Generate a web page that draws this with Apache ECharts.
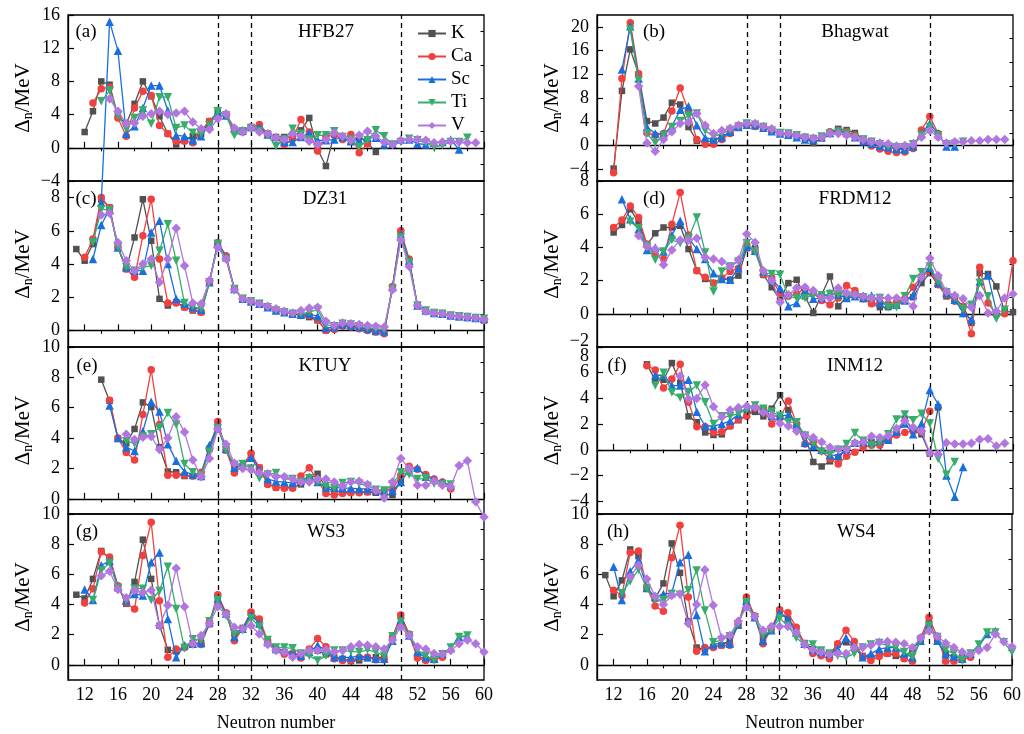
<!DOCTYPE html>
<html><head><meta charset="utf-8">
<script src="https://cdn.jsdelivr.net/npm/echarts@6/dist/echarts.min.js"></script>
<style>html,body{margin:0;padding:0;background:#fff}#c{width:1024px;height:734px}</style>
</head><body><div id="c"></div>
<script>
// ---------------- DATA ----------------
const elements = ['K', 'Ca', 'Sc', 'Ti', 'V'];
const models = ['HFB27', 'Bhagwat', 'DZ31', 'FRDM12', 'KTUY', 'INM12', 'WS3', 'WS4'];
const panelTags = ['(a)', '(b)', '(c)', '(d)', '(e)', '(f)', '(g)', '(h)'];
const xTickValues = [12, 16, 20, 24, 28, 32, 36, 40, 44, 48, 52, 56, 60];
const shellClosures = [28, 32, 50];
const yMin = [-4, -6, -1, -2, -1, -5, -1, -1];
const yMax = [16, 22, 9, 8, 10, 8, 10, 10];
const yTickLabels = [
  [-4, 0, 4, 8, 12, 16],
  [-4, 0, 4, 8, 12, 16, 20],
  [0, 2, 4, 6, 8],
  [-2, 0, 2, 4, 6, 8],
  [0, 2, 4, 6, 8, 10],
  [-4, -2, 0, 2, 4, 6, 8],
  [0, 2, 4, 6, 8, 10],
  [0, 2, 4, 6, 8, 10]
];

// first neutron number of each series (K, Ca, Sc, Ti, V)
const HFB27_start = [12, 13, 14, 14, 15];
const HFB27_K = [1.9, 4.4, 8.0, 7.6, 3.8, 2.9, 5.3, 8.0, 6.2, 3.8, 1.7, 0.4, 0.9, 1.4, 1.7, 3.2, 4.3, 4.0, 2.1, 1.9, 2.4, 2.3, 1.7, 1.3, 1.3, 1.2, 2.1, 3.6, -0.2, -2.2, 1.6, 1.1, 0.8, 1.3, 0.6, -0.5];
const HFB27_Ca = [5.4, 7.1, 7.3, 3.6, 1.4, 4.8, 6.8, 6.3, 2.7, 1.7, 0.8, 0.8, 0.6, 2.1, 3.2, 3.7, 3.9, 2.3, 2.0, 2.5, 2.8, 1.7, 1.2, 0.4, 1.1, 3.4, 1.9, -0.4, 1.4, 1.6, 1.0, 1.6, -0.6, 0.5];
const HFB27_Sc = [-6.6, 15.2, 11.7, 1.7, 2.6, 4.8, 7.5, 7.5, 4.5, 1.5, 1.4, 0.9, 1.4, 2.8, 4.3, 3.9, 2.4, 2.1, 2.5, 2.5, 1.6, 1.3, 0.7, 0.7, 1.3, 1.8, 0.9, 0.9, 1.0, 1.3, 0.8, 0.9, 1.2, 1.2, 0.4, 0.5, 1.0, 1.0, 0.5, 0.4, 0.6, 0.7, 1.0, -0.2];
const HFB27_Ti = [5.6, 6.9, 3.9, 2.3, 3.6, 4.5, 2.9, 6.1, 6.1, 2.4, 2.7, 1.8, 1.7, 2.7, 4.4, 3.9, 1.5, 2.0, 2.4, 2.0, 1.5, 0.2, 1.0, 2.3, 1.7, 1.0, 1.5, 1.5, 2.0, 1.3, 1.0, 0.1, 0.9, 2.1, 1.4, 0.4, 0.7, 1.1, 0.9, 0.6, 0.1, 0.3, 0.7, 0.7, 1.2];
const HFB27_V = [5.9, 4.4, 2.9, 3.0, 3.8, 4.1, 4.4, 4.0, 4.2, 4.4, 3.1, 2.3, 2.2, 3.5, 4.1, 2.4, 1.9, 2.4, 1.9, 1.7, 1.2, 1.0, 1.7, 1.4, 0.8, 0.4, 1.0, 1.8, 1.4, 0.9, 1.5, 2.0, 1.4, 0.7, 0.4, 0.9, 1.0, 1.0, 0.9, 0.6, 0.7, 0.8, 0.7, 0.6, 0.6];

const Bhagwat_start = [12, 12, 13, 14, 15];
const Bhagwat_K = [-3.9, 9.2, 16.2, 12.0, 4.1, 3.7, 4.7, 7.2, 6.9, 3.1, 0.8, 0.6, 0.8, 1.4, 2.3, 3.2, 3.7, 3.5, 3.1, 2.5, 2.1, 2.0, 1.7, 1.2, 0.4, 1.2, 2.1, 2.8, 2.6, 2.1, 1.1, 0.6, 0.0, -0.3, -0.5, -0.5, 0.3];
const Bhagwat_Ca = [-4.6, 11.3, 20.7, 12.1, 2.1, 1.7, 2.0, 5.8, 9.7, 5.7, 1.0, 0.2, 0.2, 1.0, 2.0, 3.3, 3.5, 3.2, 3.0, 2.4, 2.0, 1.8, 1.7, 1.4, 1.2, 1.4, 2.3, 2.5, 2.3, 1.7, 0.6, -0.1, -0.6, -1.0, -1.2, -1.1, -0.5, 2.6, 4.9, 2.0];
const Bhagwat_Sc = [12.8, 20.1, 11.3, 3.1, 2.0, 2.0, 3.2, 6.0, 6.6, 3.4, 1.3, 1.0, 1.4, 2.3, 3.1, 3.5, 3.4, 3.0, 2.4, 2.0, 1.8, 1.4, 1.0, 1.0, 1.4, 2.1, 2.5, 2.1, 1.4, 0.7, 0.3, -0.1, -0.3, -0.6, -0.7, -0.2, 2.0, 3.7, 2.0, -0.2, -0.2];
const Bhagwat_Ti = [19.5, 11.0, 2.0, 0.4, 1.7, 3.1, 4.1, 5.0, 5.4, 2.5, 1.5, 2.0, 2.6, 3.2, 3.7, 3.5, 3.1, 2.5, 2.1, 2.0, 1.7, 1.3, 1.1, 1.5, 2.0, 2.3, 2.0, 1.4, 1.0, 0.6, 0.2, -0.2, -0.3, -0.3, 0.2, 1.7, 3.1, 1.7, 0.2, 0.3, 0.6];
const Bhagwat_V = [10.0, 0.4, -1.0, 1.0, 2.3, 3.7, 3.9, 5.4, 3.4, 2.0, 2.5, 2.9, 3.4, 3.7, 3.7, 3.2, 2.8, 2.1, 2.0, 1.7, 1.4, 1.2, 1.4, 2.0, 2.0, 1.7, 1.4, 1.0, 0.6, 0.4, 0.3, -0.1, 0.0, 0.2, 1.4, 2.5, 1.4, 0.4, 0.6, 0.6, 0.8, 0.8, 1.0, 1.0, 1.0];

const DZ31_start = [11, 12, 13, 13, 14];
const DZ31_K = [4.9, 4.2, 5.2, 7.9, 7.4, 5.0, 3.7, 5.6, 7.9, 5.4, 1.9, 1.5, 1.7, 1.4, 1.2, 1.1, 2.9, 5.2, 4.4, 2.5, 1.9, 1.7, 1.6, 1.4, 1.2, 1.1, 1.0, 0.9, 0.8, 0.6, 0.0, 0.1, 0.3, 0.25, 0.15, 0.05, -0.1, -0.1, 2.6, 5.9, 4.2, 1.5, 1.2, 1.05, 1.0, 0.9, 0.8, 0.75, 0.7, 0.6];
const DZ31_Ca = [4.4, 5.5, 8.0, 7.4, 5.0, 3.7, 3.2, 5.7, 7.9, 4.3, 1.65, 1.65, 1.4, 1.25, 1.1, 2.9, 5.3, 4.5, 2.5, 1.9, 1.75, 1.6, 1.4, 1.2, 1.1, 1.0, 0.9, 0.9, 0.65, 0.0, 0.05, 0.25, 0.2, 0.1, 0.0, -0.1, -0.2, 2.65, 6.0, 4.3, 1.5, 1.2, 1.05, 1.0, 0.9, 0.85, 0.8, 0.75, 0.65];
const DZ31_Sc = [4.3, 6.35, 7.3, 5.0, 3.8, 3.6, 3.6, 5.9, 6.6, 4.0, 1.9, 1.6, 1.4, 1.25, 2.9, 5.3, 4.4, 2.5, 1.9, 1.75, 1.6, 1.4, 1.2, 1.1, 1.0, 0.95, 1.0, 0.85, 0.15, 0.2, 0.35, 0.3, 0.2, 0.1, 0.0, -0.05, 2.6, 5.8, 4.2, 1.5, 1.2, 1.05, 1.0, 0.9, 0.85, 0.8, 0.75, 0.7];
const DZ31_Ti = [5.3, 7.3, 7.25, 5.0, 3.8, 3.6, 3.8, 3.9, 4.8, 6.4, 4.2, 1.65, 1.45, 1.3, 2.9, 5.2, 4.3, 2.5, 1.9, 1.75, 1.6, 1.4, 1.2, 1.1, 1.0, 1.0, 1.1, 1.25, 0.35, 0.25, 0.4, 0.35, 0.25, 0.15, 0.1, 0.05, 2.5, 5.6, 4.1, 1.5, 1.2, 1.05, 1.0, 0.9, 0.85, 0.8, 0.75, 0.7];
const DZ31_V = [6.95, 7.05, 5.3, 4.2, 3.6, 4.0, 4.3, 2.9, 4.3, 6.15, 3.9, 1.65, 1.6, 3.0, 5.0, 4.3, 2.45, 1.9, 1.75, 1.6, 1.45, 1.3, 1.15, 1.05, 1.2, 1.35, 1.4, 0.55, 0.3, 0.45, 0.4, 0.35, 0.3, 0.25, 0.2, 2.45, 5.45, 3.85, 1.5, 1.15, 1.05, 1.0, 0.9, 0.85, 0.8, 0.75, 0.65];

const FRDM12_start = [12, 12, 13, 14, 15];
const FRDM12_K = [4.9, 5.35, 6.3, 5.5, 4.15, 4.85, 5.2, 5.2, 5.3, 3.9, 2.6, 2.1, 1.85, 2.15, 2.05, 2.3, 3.95, 3.95, 2.35, 1.6, 0.85, 1.85, 2.05, 1.05, 0.05, 1.15, 2.25, 0.45, 1.05, 1.1, 0.9, 0.65, 0.4, 0.4, 0.5, 0.8, 1.0, 1.85, 2.45, 1.75, 1.05, 0.95, 0.45, -0.55, 2.45, 2.4, 1.65, 0.15, 0.1];
const FRDM12_Ca = [5.2, 5.65, 6.5, 5.8, 4.2, 3.55, 3.3, 5.4, 7.3, 4.75, 2.6, 2.2, 1.85, 2.15, 2.55, 2.75, 4.15, 3.75, 2.35, 2.15, 1.2, 1.05, 1.2, 1.55, 1.25, 0.8, 0.55, 0.95, 1.7, 1.4, 0.9, 0.6, 0.65, 0.6, 0.7, 0.9, 1.6, 2.25, 2.55, 1.75, 1.15, 0.75, 0.45, -1.2, 2.8, 0.65, -0.05, 0.0, 3.2];
const FRDM12_Sc = [6.9, 5.7, 5.1, 3.85, 4.0, 3.75, 4.75, 5.6, 4.55, 3.9, 3.3, 2.45, 2.1, 2.05, 2.75, 4.05, 3.8, 2.55, 2.1, 1.55, 0.45, 0.65, 1.45, 0.9, 0.95, 1.25, 1.15, 0.95, 1.05, 0.95, 1.1, 0.65, 0.55, 0.55, 0.8, 1.15, 2.3, 2.75, 1.85, 1.25, 0.85, 0.05, -0.35, 1.95, 2.3, 0.15];
const FRDM12_Ti = [5.55, 5.15, 4.1, 3.25, 3.75, 4.45, 4.25, 4.55, 5.8, 3.7, 1.35, 2.55, 2.85, 3.15, 4.25, 3.75, 2.45, 2.4, 2.35, 1.05, 0.95, 0.95, 1.15, 1.1, 1.2, 1.15, 1.1, 1.05, 1.0, 0.9, 0.95, 0.4, 0.4, 1.05, 2.1, 2.5, 2.85, 1.95, 1.3, 0.95, 0.3, 0.55, 1.85, 1.05, -0.3, 0.25];
const FRDM12_V = [4.7, 4.05, 3.9, 2.95, 3.85, 4.45, 4.45, 4.55, 3.4, 3.3, 3.15, 2.85, 3.25, 4.8, 4.3, 2.6, 2.0, 0.7, 1.15, 1.55, 1.6, 1.4, 0.95, 0.95, 1.55, 1.25, 1.15, 1.05, 0.95, 0.95, 0.95, 0.95, 0.85, 0.45, 2.2, 3.35, 2.3, 1.35, 1.1, 0.9, 0.4, 1.1, 0.05, 0.15, 0.95, 1.2];

const KTUY_start = [14, 15, 15, 17, 17];
const KTUY_K = [7.85, 6.45, 3.95, 3.65, 4.6, 6.35, 6.05, 3.4, 1.8, 1.75, 1.5, 1.5, 1.45, 3.3, 4.75, 3.2, 2.05, 2.15, 2.85, 2.05, 1.0, 0.75, 0.75, 0.75, 0.95, 1.3, 1.65, 0.75, 0.5, 0.45, 0.45, 0.45, 0.45, 0.4, 0.3, 0.25, 1.2];
const KTUY_Ca = [6.5, 4.0, 3.05, 2.55, 5.55, 8.5, 4.9, 1.55, 1.55, 1.55, 1.5, 1.75, 3.3, 5.1, 3.2, 1.7, 2.2, 3.0, 2.05, 0.95, 0.75, 0.7, 0.7, 1.5, 2.05, 1.2, 0.35, 0.25, 0.35, 0.4, 0.4, 0.45, 0.5, 0.55, 0.6, 1.55, 2.15, 1.95, 1.6, 1.3, 1.1, 0.65];
const KTUY_Sc = [6.15, 4.0, 3.4, 3.15, 4.45, 6.4, 5.75, 3.6, 2.5, 1.8, 1.6, 1.5, 3.55, 4.8, 3.3, 2.05, 2.25, 2.7, 1.9, 1.3, 1.15, 1.1, 1.05, 1.2, 1.45, 1.1, 0.75, 0.75, 0.7, 0.7, 0.65, 0.65, 0.55, 0.55, 0.55, 1.1, 1.9, 2.05, 1.45, 1.3, 1.1, 0.9];
const KTUY_Ti = [3.8, 3.65, 4.1, 4.25, 4.7, 5.65, 4.9, 2.3, 1.75, 1.55, 3.1, 4.65, 3.2, 2.25, 2.3, 2.0, 1.35, 1.6, 1.7, 1.3, 1.3, 1.1, 1.35, 1.1, 0.85, 0.7, 1.05, 1.1, 1.0, 0.85, 0.6, 0.55, 0.95, 1.75, 1.6, 1.3, 1.35, 1.0, 0.95, 0.95];
const KTUY_V = [4.25, 3.9, 4.05, 4.1, 3.25, 4.0, 5.4, 4.4, 2.55, 1.45, 2.65, 4.6, 3.6, 2.35, 2.0, 1.9, 1.7, 1.65, 1.45, 1.45, 1.3, 1.1, 1.1, 1.3, 1.3, 1.1, 0.85, 1.1, 1.15, 0.95, 0.55, 0.05, 1.1, 2.65, 2.0, 0.9, 0.9, 1.15, 0.9, 0.8, 2.2, 2.5, -0.2, -1.2];

const INM12_start = [16, 16, 17, 17, 20];
const INM12_K = [6.65, 5.4, 5.45, 6.75, 5.2, 2.6, 2.15, 1.35, 1.15, 1.2, 1.85, 2.3, 2.75, 2.95, 2.6, 3.2, 4.25, 3.1, 1.85, 1.15, -0.95, -1.3, -0.9, -0.6, 0.05, 0.5, 0.55, 0.6, 0.6, 0.7, 1.35, 2.4, 1.5, 1.2, -0.3, 3.3];
const INM12_Ca = [6.55, 6.2, 4.8, 5.5, 6.65, 3.7, 1.8, 1.8, 1.35, 1.4, 1.85, 2.35, 2.6, 3.3, 3.2, 2.0, 2.5, 3.8, 2.0, 0.45, 0.6, -0.1, -0.7, -1.1, -0.5, -0.2, 0.2, 0.35, 0.35, 0.8, 1.15, 1.35, 1.45, 1.45, 3.0];
const INM12_Sc = [5.8, 5.8, 5.0, 5.0, 5.45, 2.95, 1.85, 1.85, 2.0, 2.25, 2.75, 3.3, 3.45, 3.2, 2.6, 2.65, 2.7, 2.0, 0.55, 0.3, 0.0, -0.4, -0.45, 0.05, 0.55, 0.6, 0.6, 0.7, 0.8, 1.4, 2.05, 1.2, 2.05, 4.65, 3.55, -2.0, -3.65, -1.35];
const INM12_Ti = [5.0, 6.0, 4.45, 4.05, 4.5, 5.0, 3.7, 2.0, 2.6, 2.6, 2.85, 3.1, 3.45, 3.2, 2.95, 2.65, 2.15, 2.15, 1.1, 0.5, -0.15, -0.35, 0.0, 0.45, 1.3, 0.7, 0.35, 0.55, 1.2, 2.35, 2.75, 2.3, 2.8, 2.05, -0.7, -1.95, -0.95];
const INM12_V = [5.75, 3.95, 4.0, 5.05, 3.35, 2.55, 3.1, 3.3, 3.4, 3.3, 2.9, 2.65, 2.05, 1.85, 1.45, 1.15, 0.95, 0.6, 0.2, 0.05, 0.05, 0.55, 0.6, 1.05, 0.95, 1.1, 1.65, 2.25, 1.75, 1.45, -0.25, -0.35, 0.55, 0.45, 0.45, 0.5, 0.8, 0.85, 0.3, 0.5];

const WS3_start = [11, 12, 12, 13, 14];
const WS3_K = [4.65, 4.4, 5.7, 7.55, 7.05, 5.2, 4.05, 5.5, 8.3, 5.7, 2.6, 1.0, 0.9, 1.2, 1.45, 1.45, 2.7, 4.5, 3.4, 2.05, 2.45, 3.45, 2.85, 1.6, 1.05, 0.85, 0.75, 0.7, 1.0, 0.95, 0.7, 0.5, 0.4, 0.25, 0.3, 0.45, 0.5, 0.5, 1.8, 3.25, 2.0, 0.6, 0.35, 0.4];
const WS3_Ca = [4.1, 5.05, 7.5, 7.15, 5.25, 4.1, 3.7, 7.25, 9.45, 4.25, 0.5, 1.05, 1.15, 1.35, 1.35, 2.85, 4.65, 3.45, 1.6, 2.4, 3.5, 3.05, 1.6, 1.0, 0.7, 0.7, 0.45, 1.05, 1.75, 1.2, 0.4, 0.3, 0.3, 0.5, 0.5, 0.35, 0.35, 1.85, 3.3, 2.05, 0.45, 0.3, 0.35, 0.5];
const WS3_Sc = [5.0, 4.3, 6.6, 6.9, 5.15, 4.25, 4.7, 4.6, 6.8, 7.45, 3.05, 0.5, 1.3, 1.4, 1.45, 2.85, 4.4, 3.4, 1.85, 2.4, 3.3, 2.75, 1.5, 1.05, 1.0, 0.75, 0.6, 0.85, 1.3, 0.95, 0.5, 0.5, 0.5, 0.6, 0.5, 0.4, 0.4, 1.6, 3.0, 1.95, 0.85, 0.5, 0.4, 0.75, 1.1, 1.85, 1.9];
const WS3_Ti = [4.3, 6.25, 6.75, 5.1, 4.25, 5.05, 5.05, 4.3, 4.9, 6.5, 3.7, 1.1, 1.7, 1.65, 2.9, 4.3, 3.25, 2.05, 2.3, 3.1, 2.55, 1.65, 1.15, 1.15, 1.1, 0.75, 0.6, 0.3, 0.6, 0.95, 0.95, 0.9, 0.85, 1.0, 0.85, 0.6, 1.9, 2.85, 1.95, 1.0, 0.6, 0.35, 0.7, 1.15, 1.85, 1.95];
const WS3_V = [5.9, 6.2, 5.0, 4.45, 4.95, 4.8, 4.95, 2.6, 3.95, 6.4, 3.85, 1.4, 1.95, 2.75, 3.85, 3.35, 2.5, 2.4, 2.6, 2.05, 1.35, 0.95, 0.85, 0.5, 0.75, 0.95, 0.95, 1.0, 0.85, 0.95, 1.2, 1.35, 1.3, 1.2, 1.05, 1.65, 2.5, 1.95, 1.2, 1.05, 0.75, 0.7, 0.95, 1.4, 1.65, 1.4, 0.85];

const WS4_start = [11, 12, 12, 13, 14];
const WS4_K = [5.95, 4.55, 5.6, 7.65, 7.2, 5.1, 4.4, 5.4, 8.05, 6.1, 2.9, 1.15, 1.05, 1.2, 1.3, 1.65, 2.6, 4.25, 3.2, 1.75, 2.4, 3.5, 3.05, 2.4, 1.45, 1.05, 0.9, 0.7, 1.35, 1.5, 1.15, 0.6, 0.5, 0.7, 0.75, 0.6, 0.45, 1.05, 1.65, 2.85, 1.6, 0.75, 0.5, 0.5];
const WS4_Ca = [4.95, 4.6, 7.45, 7.55, 5.15, 3.9, 3.55, 7.1, 9.25, 4.5, 0.9, 1.15, 1.15, 1.3, 1.3, 2.7, 4.5, 3.25, 1.4, 2.4, 3.65, 3.45, 2.5, 1.4, 0.75, 0.6, 0.4, 1.4, 2.3, 1.55, 0.55, 0.3, 0.55, 0.75, 0.75, 0.4, 0.25, 1.8, 3.15, 1.85, 0.25, 0.25, 0.35, 0.5];
const WS4_Sc = [6.5, 4.3, 6.2, 6.95, 5.1, 4.5, 4.7, 4.75, 6.8, 7.3, 3.3, 0.9, 1.35, 1.45, 1.4, 2.7, 4.25, 3.15, 1.6, 2.3, 3.45, 3.05, 2.15, 1.4, 1.0, 0.85, 0.75, 1.05, 1.8, 1.2, 0.5, 0.75, 1.05, 1.15, 1.15, 0.75, 0.5, 1.6, 2.7, 1.6, 0.7, 0.55, 0.4, 0.75, 1.2, 2.05, 2.25];
const WS4_Ti = [4.75, 5.55, 6.3, 5.05, 4.3, 4.3, 4.7, 4.65, 4.95, 6.25, 3.6, 1.5, 1.65, 1.9, 2.7, 4.15, 3.15, 1.95, 2.3, 3.1, 2.6, 1.8, 1.35, 1.35, 0.95, 0.75, 0.6, 0.5, 0.75, 1.15, 1.35, 1.45, 1.3, 1.15, 0.85, 0.55, 1.65, 2.6, 1.85, 1.0, 0.75, 0.35, 0.75, 1.35, 2.15, 2.15, 1.5, 0.85];
const WS4_V = [5.85, 6.6, 5.7, 4.55, 4.0, 4.6, 4.7, 2.75, 4.0, 6.3, 3.95, 1.8, 1.95, 2.9, 3.8, 3.2, 2.3, 2.55, 2.55, 2.55, 2.15, 1.35, 1.0, 0.85, 0.7, 0.75, 0.75, 1.15, 1.15, 1.3, 1.5, 1.55, 1.5, 1.4, 1.15, 1.8, 2.25, 1.9, 1.45, 1.15, 0.85, 0.7, 0.95, 1.15, 2.05, 1.55, 1.2];

// ---------------- ASSEMBLY ----------------
const panelStarts = [HFB27_start, Bhagwat_start, DZ31_start, FRDM12_start, KTUY_start, INM12_start, WS3_start, WS4_start];
const panelValues = [
  [HFB27_K, HFB27_Ca, HFB27_Sc, HFB27_Ti, HFB27_V],
  [Bhagwat_K, Bhagwat_Ca, Bhagwat_Sc, Bhagwat_Ti, Bhagwat_V],
  [DZ31_K, DZ31_Ca, DZ31_Sc, DZ31_Ti, DZ31_V],
  [FRDM12_K, FRDM12_Ca, FRDM12_Sc, FRDM12_Ti, FRDM12_V],
  [KTUY_K, KTUY_Ca, KTUY_Sc, KTUY_Ti, KTUY_V],
  [INM12_K, INM12_Ca, INM12_Sc, INM12_Ti, INM12_V],
  [WS3_K, WS3_Ca, WS3_Sc, WS3_Ti, WS3_V],
  [WS4_K, WS4_Ca, WS4_Sc, WS4_Ti, WS4_V]
];

const SERIF = '"Liberation Serif","Times New Roman",serif';
const colors = ['#515151', '#F14040', '#1A6FDF', '#37AD6B', '#B177DE'];
const symbols = ['rect', 'circle', 'triangle', 'triangle', 'diamond'];
const symbolRot = [0, 0, 0, 180, 0];
const symbolSizes = [6.5, 7.5, 8.5, 8.5, 9.5];
const rowTops = [15, 181, 347, 514];
const rowHeights = [166, 166, 167, 166];
const colLefts = [68, 597];
const plotW = 416;
const tagX = [86, 654, 86, 654, 87, 617, 87, 618];
const titleX = [326, 855, 325, 855, 325, 855, 326, 856];
const textY = [32, 199, 366, 532];

function steps(a, b, s) { const r = []; for (let v = a; v <= b + 1e-9; v += s) r.push(Math.round(v * 1000) / 1000); return r; }
function fmt(v) { return (v < 0 ? '\u2212' : '') + Math.abs(v); }

// the two tick labels that meet at the (d)/(f) boundary are drawn stacked as one text
const boundaryLabels = [{ panel: 3, value: -2 }, { panel: 5, value: 8 }];

const option = {
  animation: false,
  backgroundColor: '#fff',
  grid: [], xAxis: [], yAxis: [], series: [], graphic: [],
  legend: {
    data: elements, orient: 'vertical', left: 412, top: 19,
    itemWidth: 28, itemHeight: 9, itemGap: 4, selectedMode: false,
    textStyle: { fontFamily: SERIF, fontSize: 19, color: '#000', lineHeight: 18 }
  }
};

const xMinor = steps(14, 58, 4);
for (let i = 0; i < 8; i++) {
  const row = Math.floor(i / 2), col = i % 2;
  option.grid.push({
    left: colLefts[col], top: rowTops[row], width: plotW, height: rowHeights[row],
    show: true, borderColor: '#000', borderWidth: 1.3, backgroundColor: 'rgba(0,0,0,0)'
  });
}
for (let i = 0; i < 8; i++) {
  const row = Math.floor(i / 2);
  option.xAxis.push({
    type: 'value', gridIndex: i, min: 10, max: 60,
    axisLine: { show: true, lineStyle: { color: '#000', width: 1.3 } },
    splitLine: { show: false },
    axisTick: { show: true, inside: true, length: 6, customValues: xTickValues, lineStyle: { color: '#000', width: 1.2 } },
    axisLabel: { show: row === 3, customValues: xTickValues, margin: 6, color: '#000', fontSize: 18, fontFamily: SERIF },
    name: row === 3 ? 'Neutron number' : '', nameLocation: 'middle', nameGap: 34,
    nameTextStyle: { color: '#000', fontSize: 18, fontFamily: SERIF }
  });
}
for (let i = 0; i < 8; i++) {
  option.xAxis.push({
    type: 'value', gridIndex: i, min: 10, max: 60,
    axisLine: { show: false }, splitLine: { show: false },
    axisTick: { show: true, inside: true, length: 3.5, customValues: xMinor, lineStyle: { color: '#000', width: 1.1 } },
    axisLabel: { show: false }
  });
}
for (let i = 0; i < 8; i++) {
  const labs = yTickLabels[i];
  const shownLabs = labs.filter(v => !boundaryLabels.some(n => n.panel === i && n.value === v));
  option.yAxis.push({
    type: 'value', gridIndex: i, min: yMin[i], max: yMax[i],
    axisLine: { show: true, lineStyle: { color: '#000', width: 1.3 } },
    splitLine: { show: false },
    axisTick: { show: true, inside: true, length: 6, customValues: labs, lineStyle: { color: '#000', width: 1.2 } },
    axisLabel: {
      customValues: shownLabs, margin: 8, color: '#000', fontSize: 18, fontFamily: SERIF,
      formatter: fmt
    },
    name: '{a|\u0394}{b|n}{a|/MeV}', nameLocation: 'middle', nameRotate: 90, nameGap: 33,
    nameTextStyle: {
      rich: {
        a: { fontSize: 21, fontFamily: SERIF, color: '#000' },
        b: { fontSize: 14, fontFamily: SERIF, color: '#000', padding: [10, 0, 0, 0] }
      }
    }
  });
}
for (let i = 0; i < 8; i++) {
  const labs = yTickLabels[i];
  const step = labs[1] - labs[0];
  const minors = steps(labs[0] - step / 2, yMax[i], step).filter(v => v > yMin[i] && v < yMax[i]);
  option.yAxis.push({
    type: 'value', gridIndex: i, min: yMin[i], max: yMax[i],
    axisLine: { show: false }, splitLine: { show: false },
    axisTick: { show: true, inside: true, length: 3.5, customValues: minors, lineStyle: { color: '#000', width: 1.1 } },
    axisLabel: { show: false }
  });
}

for (let i = 0; i < 8; i++) {
  for (let e = 0; e < 5; e++) {
    const start = panelStarts[i][e];
    const vals = panelValues[i][e];
    const data = vals.map((v, k) => [start + k, v]);
    const s = {
      type: 'line', name: elements[e], xAxisIndex: i, yAxisIndex: i, data: data,
      symbol: symbols[e], symbolSize: symbolSizes[e], symbolRotate: symbolRot[e],
      showSymbol: true, showAllSymbol: true,
      itemStyle: { color: colors[e] },
      lineStyle: { color: colors[e], width: 1.3 },
      emphasis: { disabled: true }, silent: true,
      clip: !((i === 0 && e === 2) || (i === 4 && e === 4)),
      z: 3 + e
    };
    if (e === 0) {
      s.markLine = {
        silent: true, symbol: ['none', 'none'], label: { show: false },
        lineStyle: { color: '#000', type: [5, 4], width: 1.3 },
        data: shellClosures.map(x => ({ xAxis: x })), animation: false
      };
    }
    option.series.push(s);
  }
}

// texts: panel tags and model names
const base = { fontFamily: SERIF, fill: '#000', textAlign: 'center', textVerticalAlign: 'middle', align: 'center', verticalAlign: 'middle' };
for (let i = 0; i < 8; i++) {
  const row = Math.floor(i / 2);
  option.graphic.push({ type: 'text', x: tagX[i], y: textY[row], z: 100, style: Object.assign({ text: panelTags[i], fontSize: 19 }, base) });
  option.graphic.push({ type: 'text', x: titleX[i], y: textY[row], z: 100, style: Object.assign({ text: models[i], fontSize: 19 }, base) });
}
// stacked boundary labels (d: -2 above, f: 8 below) at the shared panel edge
const bRow = Math.floor(boundaryLabels[1].panel / 2);
option.graphic.push({
  type: 'text', left: colLefts[1] - 8 - 22, top: rowTops[bRow] - 15, z: 100,
  style: {
    text: boundaryLabels.map(n => fmt(n.value)).join('\n'),
    fontFamily: SERIF, fontSize: 18, lineHeight: 15, fill: '#000',
    textAlign: 'right', align: 'right', width: 22
  }
});

const chart = echarts.init(document.getElementById('c'), null, { renderer: 'canvas' });
chart.setOption(option);
</script></body></html>
